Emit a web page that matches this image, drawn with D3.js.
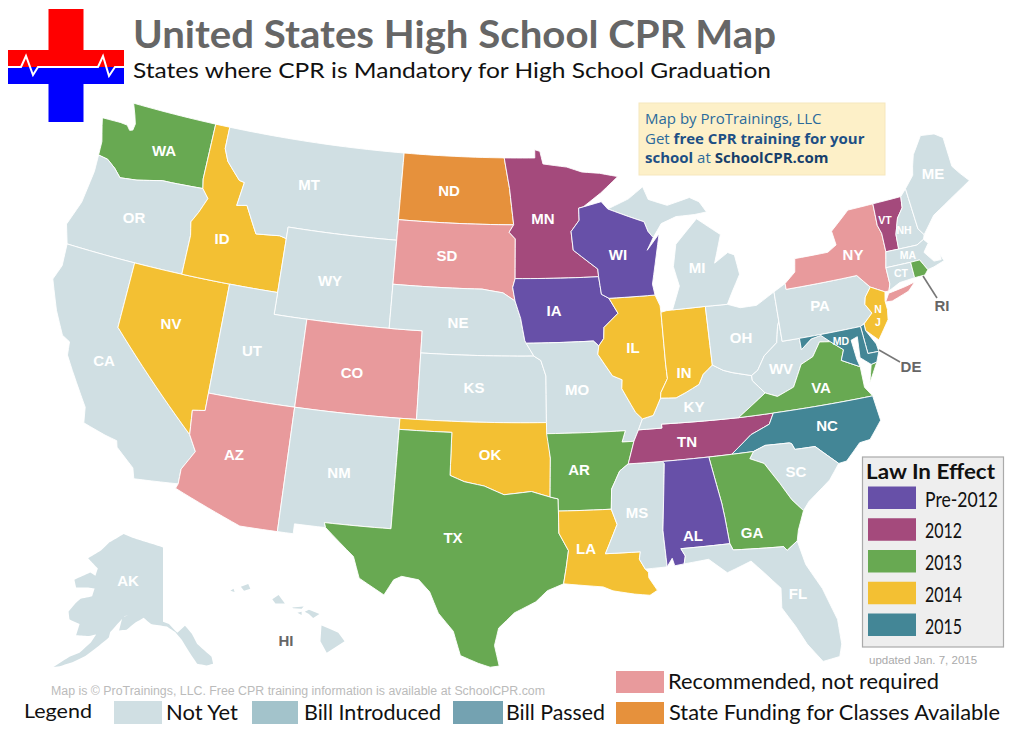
<!DOCTYPE html>
<html><head><meta charset="utf-8">
<style>html,body{margin:0;padding:0;background:#fff}svg{display:block}</style>
<script src="https://cdn.jsdelivr.net/npm/d3@7"></script></head><body>
<svg id="c" width="1024" height="731"></svg>
<script>
// ---- data: legend categories, colours and each state's status ----
const lawCategories = ["Pre-2012","2012","2013","2014","2015"];
const lawColors = ["#6750a8","#a44a7c","#68a952","#f3c033","#438696"];
const statusCategories = ["Not Yet","Bill Introduced","Bill Passed","Recommended, not required","State Funding for Classes Available"];
const statusColors = ["#d0dfe3","#a3c3cb","#74a2b1","#e89a9c","#e6913c"];
const statePre2012 = ["IA","WI","AL"];
const state2012 = ["MN","TN","VT"];
const state2013 = ["WA","TX","AR","GA","VA","RI"];
const state2014 = ["ID","NV","OK","LA","IL","IN","NJ"];
const state2015 = ["NC","MD","DE"];
const stateRecommended = ["AZ","CO","SD","NY"];
const stateFunding = ["ND"];
// ---- state outlines, longitude/latitude rings ----
const stateShapes = {
WA:[[[-124.7,48.38],[-124.55,47.95],[-123.3,47.98],[-122.8,47.95],[-122.55,47.75],[-122.35,47.8],[-122.3,48.1],[-122.5,48.5],[-122.8,49],[-117.03,49],[-117.04,46.42],[-116.92,45.995],[-119,45.93],[-119.6,45.92],[-121.2,45.65],[-122.3,45.55],[-122.8,45.9],[-123.4,46.2],[-124.05,46.27],[-124.1,46.9],[-124.4,47.6]]],
OR:[[[-124.05,46.27],[-123.4,46.2],[-122.8,45.9],[-122.3,45.55],[-121.2,45.65],[-119.6,45.92],[-119,45.93],[-116.92,45.995],[-116.46,45.6],[-116.85,44.9],[-117.2,44.4],[-117.03,43.8],[-117.03,42],[-124.3,42],[-124.7,42.85],[-124.2,44],[-124,45.5]]],
CA:[[[-124.3,42],[-120,42],[-120,39],[-114.63,35],[-114.14,34.3],[-114.72,33.4],[-114.72,32.72],[-117.12,32.53],[-117.3,33],[-118.4,33.75],[-118.5,34.03],[-119.2,34.15],[-120.5,34.45],[-120.65,35.15],[-121.9,36.6],[-122.4,37.2],[-122.5,37.8],[-123,38],[-123.75,39],[-124.5,40.3],[-124.2,41]]],
NV:[[[-120,42],[-114.04,42],[-114.04,36.2],[-114.75,36.1],[-114.63,35],[-120,39]]],
ID:[[[-117.03,49],[-116.05,49],[-116.05,48],[-115.7,47.45],[-114.7,46.7],[-114.35,46.65],[-114.55,45.56],[-113.9,45.65],[-113.45,45.05],[-113,44.45],[-111.5,44.55],[-111.05,44.47],[-111.05,42],[-117.03,42],[-117.03,43.8],[-117.2,44.4],[-116.85,44.9],[-116.46,45.6],[-116.92,45.995],[-117.04,46.42]]],
MT:[[[-116.05,49],[-104.05,49],[-104.05,45],[-111.05,45],[-111.05,44.47],[-111.5,44.55],[-113,44.45],[-113.45,45.05],[-113.9,45.65],[-114.55,45.56],[-114.35,46.65],[-114.7,46.7],[-115.7,47.45],[-116.05,48]]],
WY:[[[-111.05,45],[-104.05,45],[-104.05,41],[-111.05,41]]],
UT:[[[-114.04,42],[-111.05,42],[-111.05,41],[-109.05,41],[-109.05,37],[-114.04,37]]],
CO:[[[-109.05,41],[-102.05,41],[-102.05,37],[-109.05,37]]],
AZ:[[[-114.04,37],[-109.05,37],[-109.05,31.33],[-111.07,31.33],[-114.81,32.5],[-114.72,32.72],[-114.72,33.4],[-114.14,34.3],[-114.63,35],[-114.75,36.1],[-114.04,36.2]]],
NM:[[[-109.05,37],[-103,37],[-103.04,32],[-106.62,32],[-106.53,31.78],[-108.2,31.78],[-108.2,31.33],[-109.05,31.33]]],
ND:[[[-104.05,49],[-97.23,49],[-96.85,47.6],[-96.56,45.94],[-104.05,45.94]]],
SD:[[[-104.05,45.94],[-96.56,45.94],[-96.85,45.6],[-96.45,45.3],[-96.45,43.5],[-96.6,43.1],[-96.45,42.49],[-97.2,42.85],[-98.5,43],[-104.05,43]]],
NE:[[[-104.05,43],[-98.5,43],[-97.2,42.85],[-96.45,42.49],[-96.1,41.7],[-95.85,40.7],[-95.31,40],[-102.05,40],[-102.05,41],[-104.05,41]]],
KS:[[[-102.05,40],[-95.31,40],[-94.9,39.8],[-94.61,39.1],[-94.62,37],[-102.05,37]]],
OK:[[[-103,37],[-94.62,37],[-94.43,35.4],[-94.48,33.64],[-95.5,33.9],[-97,33.75],[-98.1,34.13],[-99.2,34.3],[-100,34.56],[-100,36.5],[-103,36.5]]],
TX:[[[-106.62,32],[-103.04,32],[-103,36.5],[-100,36.5],[-100,34.56],[-99.2,34.3],[-98.1,34.13],[-97,33.75],[-95.5,33.9],[-94.48,33.64],[-94.04,33.55],[-94.04,33],[-94.04,32],[-93.55,31.2],[-93.7,30.4],[-93.85,29.7],[-94.7,29.4],[-95.3,28.9],[-96.4,28.4],[-97.2,27.7],[-97.4,26.9],[-97.15,25.96],[-97.6,25.9],[-98.2,26.07],[-99.1,26.4],[-99.5,27.5],[-100.3,28.3],[-100.8,29.25],[-101.4,29.77],[-102.3,29.88],[-102.7,29.7],[-103.15,28.98],[-104.5,29.65],[-104.9,30.6],[-106.53,31.78]]],
MN:[[[-97.23,49],[-95.15,49],[-95.15,49.38],[-94.8,49.3],[-94.6,48.72],[-93,48.55],[-92,48.3],[-90.8,48.2],[-89.6,48],[-90.8,47.3],[-92,46.7],[-92.3,46.65],[-92.3,46.1],[-92.85,45.6],[-92.75,44.75],[-91.25,43.85],[-91.22,43.5],[-96.45,43.5],[-96.45,45.3],[-96.85,45.6],[-96.56,45.94],[-96.85,47.6]]],
IA:[[[-96.45,43.5],[-91.22,43.5],[-91.1,42.7],[-90.65,42.5],[-90.15,41.8],[-91.05,41.2],[-91.1,40.7],[-91.42,40.38],[-91.73,40.61],[-95.77,40.58],[-95.85,40.7],[-96.1,41.7],[-96.45,42.49],[-96.6,43.1]]],
MO:[[[-95.77,40.58],[-91.73,40.61],[-91.42,40.38],[-91.5,40],[-90.7,39],[-90.15,38.8],[-90.2,38.4],[-89.5,37.3],[-89.13,36.98],[-89.4,36.5],[-89.7,36],[-90.37,36],[-90.15,36.5],[-94.62,36.5],[-94.62,37],[-94.61,39.1],[-94.9,39.8],[-95.31,40]]],
AR:[[[-94.62,36.5],[-90.15,36.5],[-90.37,36],[-89.7,36],[-90.1,35],[-90.6,34.7],[-91.1,33.9],[-91.17,33],[-94.04,33],[-94.04,33.55],[-94.48,33.64],[-94.43,35.4]]],
LA:[[[-94.04,33],[-91.17,33],[-90.9,32.3],[-91.6,31],[-89.75,31],[-89.83,30.67],[-89.55,30.2],[-89.4,30.05],[-89.4,29.8],[-89,29.2],[-89.4,29],[-90.2,29.1],[-91.3,29.3],[-91.8,29.5],[-92.3,29.55],[-93.85,29.7],[-93.7,30.4],[-93.55,31.2],[-94.04,32]]],
MS:[[[-90.1,35],[-88.2,35],[-88.1,34.9],[-88.47,31.9],[-88.4,30.23],[-89.55,30.2],[-89.83,30.67],[-89.75,31],[-91.6,31],[-90.9,32.3],[-91.17,33],[-91.1,33.9],[-90.6,34.7]]],
TN:[[[-90.1,35],[-89.7,36],[-89.4,36.5],[-88.07,36.5],[-88.07,36.68],[-83.68,36.6],[-81.68,36.59],[-82,36.12],[-83.1,35.77],[-84.32,35],[-85.6,35],[-88.2,35]]],
KY:[[[-89.4,36.5],[-89.13,36.98],[-88.5,37.1],[-88,37.85],[-87.1,37.8],[-86.5,38],[-85.7,38.3],[-85.4,38.73],[-84.8,39.1],[-84.2,38.8],[-83.7,38.65],[-82.6,38.4],[-82.6,38.17],[-81.97,37.54],[-83.68,36.6],[-88.07,36.68],[-88.07,36.5]]],
IL:[[[-90.65,42.5],[-87.8,42.5],[-87.55,42],[-87.53,41.7],[-87.53,39.35],[-87.5,38.7],[-87.95,38.1],[-88,37.85],[-88.5,37.1],[-89.13,36.98],[-89.5,37.3],[-90.2,38.4],[-90.15,38.8],[-90.7,39],[-91.5,40],[-91.42,40.38],[-91.1,40.7],[-91.05,41.2],[-90.15,41.8]]],
IN:[[[-87.53,41.7],[-87.2,41.75],[-86.82,41.76],[-84.8,41.76],[-84.8,39.1],[-85.4,38.73],[-85.7,38.3],[-86.5,38],[-87.1,37.8],[-88,37.85],[-87.95,38.1],[-87.5,38.7],[-87.53,39.35]]],
OH:[[[-84.8,41.76],[-83.45,41.73],[-82.7,41.5],[-81.7,41.5],[-80.52,41.98],[-80.52,40.64],[-80.65,40.4],[-80.85,39.7],[-81.7,39.2],[-82.2,38.6],[-82.6,38.4],[-83.7,38.65],[-84.2,38.8],[-84.8,39.1]]],
WV:[[[-82.6,38.4],[-82.2,38.6],[-81.7,39.2],[-80.85,39.7],[-80.65,40.4],[-80.52,40.64],[-80.52,39.72],[-79.48,39.72],[-79.48,39.2],[-78.8,39.6],[-78.2,39.68],[-77.72,39.32],[-78.35,39.4],[-78.9,38.8],[-79.65,38.55],[-80.3,37.6],[-81.3,37.3],[-81.97,37.54],[-82.6,38.17]]],
VA:[[[-83.68,36.6],[-81.97,37.54],[-81.3,37.3],[-80.3,37.6],[-79.65,38.55],[-78.9,38.8],[-78.35,39.4],[-77.72,39.32],[-77.05,38.85],[-77.3,38.4],[-76.3,37.95],[-76.3,37],[-75.95,36.55],[-81.68,36.59]],[[-75.95,37.15],[-75.3,38],[-75.65,37.95]]],
NC:[[[-84.32,35],[-83.1,35.77],[-82,36.12],[-81.68,36.59],[-75.95,36.55],[-75.8,35.4],[-76.6,34.65],[-77.2,34.6],[-78.1,33.9],[-78.55,33.86],[-79.67,34.8],[-80.8,34.82],[-80.93,35.1],[-81.05,35.15],[-82.4,35.2],[-83.1,35]]],
SC:[[[-83.1,35],[-82.4,35.2],[-81.05,35.15],[-80.93,35.1],[-80.8,34.82],[-79.67,34.8],[-78.55,33.86],[-79.2,33.2],[-80.5,32.4],[-80.87,32.03],[-81.4,32.6],[-81.9,33.4],[-82.6,34.4],[-83.35,34.7]]],
GA:[[[-85.6,35],[-84.32,35],[-83.1,35],[-83.35,34.7],[-82.6,34.4],[-81.9,33.4],[-81.4,32.6],[-80.87,32.03],[-81.3,31.2],[-81.45,30.72],[-82.05,30.36],[-82.2,30.55],[-84.86,30.7],[-85,31],[-85.1,32.2],[-85.18,32.87]]],
AL:[[[-88.2,35],[-85.6,35],[-85.18,32.87],[-85.1,32.2],[-85,31],[-87.6,31],[-87.4,30.65],[-87.5,30.3],[-88,30.25],[-88.1,30.6],[-88.4,30.23],[-88.47,31.9],[-88.1,34.9]]],
FL:[[[-87.6,31],[-85,31],[-84.86,30.7],[-82.2,30.55],[-82.05,30.36],[-81.45,30.72],[-81.2,29.6],[-80.55,28.4],[-80.05,26.9],[-80.05,25.75],[-80.25,25.2],[-81.1,25.1],[-81.75,26],[-82.2,26.9],[-82.75,27.8],[-82.65,28.7],[-83.4,29.5],[-84,30.1],[-85.3,29.7],[-86.2,30.4],[-87.5,30.3],[-87.4,30.65]]],
MI:[[[-86.82,41.76],[-84.8,41.76],[-83.45,41.73],[-83.1,42.2],[-82.45,43],[-82.6,43.9],[-83,44.05],[-83.9,43.65],[-83.3,44.9],[-84.7,45.75],[-85.5,45.2],[-86.2,44.7],[-86.5,43.7],[-86.25,42.8]],[[-90.4,46.55],[-89,46.95],[-88,47.45],[-87.7,46.85],[-86.5,46.5],[-85,46.75],[-84.4,46.5],[-84,46],[-84.8,45.95],[-86,45.95],[-87,45.7],[-87.6,45.1],[-87.9,45.4],[-88.1,45.85],[-89.1,46.15]]],
WI:[[[-92.3,46.65],[-92,46.7],[-90.8,46.9],[-90.4,46.55],[-89.1,46.15],[-88.1,45.85],[-87.9,45.4],[-87.6,45.1],[-88.05,44.55],[-87.2,45.25],[-87.5,44.3],[-87.9,43],[-87.8,42.5],[-90.65,42.5],[-91.1,42.7],[-91.22,43.5],[-91.25,43.85],[-92.75,44.75],[-92.85,45.6],[-92.3,46.1]]],
PA:[[[-80.52,41.98],[-79.76,42.27],[-79.76,42],[-75.35,42],[-74.7,41.36],[-75.13,40.97],[-75.25,40.65],[-74.95,40.2],[-75.55,39.8],[-75.79,39.72],[-80.52,39.72]]],
NY:[[[-79.76,42.27],[-79.05,42.7],[-78.9,43.3],[-76.8,43.3],[-76.2,43.55],[-76.3,44.2],[-75,44.98],[-73.35,45],[-73.4,44],[-73.25,43.6],[-73.27,42.75],[-73.5,42.05],[-73.5,41.3],[-73.65,41],[-73.9,41],[-74.7,41.36],[-75.35,42],[-79.76,42]],[[-74,40.55],[-73.7,40.9],[-72.6,41.02],[-72,41.12],[-72.5,40.78],[-73.6,40.52]]],
VT:[[[-73.35,45],[-71.5,45.01],[-71.6,44.5],[-72.05,44.1],[-72.4,43.4],[-72.46,42.73],[-73.27,42.75],[-73.25,43.6],[-73.4,44]]],
NH:[[[-71.5,45.01],[-71.08,45.3],[-70.98,43.4],[-70.7,43.07],[-70.82,42.87],[-71.3,42.7],[-72.46,42.73],[-72.4,43.4],[-72.05,44.1],[-71.6,44.5]]],
ME:[[[-71.08,45.3],[-70.4,45.8],[-70.25,46.2],[-70,46.7],[-69.2,47.45],[-68.3,47.35],[-67.8,47.07],[-67.8,45.7],[-67.45,45.3],[-67,44.85],[-68.5,44.3],[-69.8,43.8],[-70.7,43.07],[-70.98,43.4]]],
MA:[[[-73.5,42.05],[-73.27,42.75],[-72.46,42.73],[-71.3,42.7],[-70.82,42.87],[-70.6,42.65],[-71,42.3],[-70.55,41.8],[-70.1,41.78],[-70.1,42.05],[-69.95,41.7],[-70.65,41.55],[-71.05,41.5],[-71.38,42.02],[-71.95,42.02]]],
CT:[[[-73.5,42.05],[-71.95,42.02],[-71.95,41.3],[-72.9,41.25],[-73.65,41],[-73.5,41.3]]],
RI:[[[-71.95,42.02],[-71.38,42.02],[-71.05,41.5],[-71.3,41.3],[-71.95,41.3]]],
NJ:[[[-74.7,41.36],[-73.9,41],[-74.02,40.6],[-74,40.2],[-74.1,39.75],[-74.9,38.95],[-75.55,39.5],[-75.55,39.8],[-74.95,40.2],[-75.25,40.65],[-75.13,40.97]]],
DE:[[[-75.79,39.72],[-75.55,39.8],[-75.55,39.5],[-75.1,38.8],[-75.05,38.45],[-75.7,38.46]]],
MD:[[[-79.48,39.72],[-75.79,39.72],[-75.7,38.46],[-75.05,38.45],[-75.3,38],[-75.65,37.95],[-76.2,38.35],[-76.1,39.3],[-76.5,39.2],[-76.4,38.3],[-76.3,37.95],[-77.3,38.4],[-77.05,38.85],[-77.72,39.32],[-78.2,39.68],[-78.8,39.6],[-79.48,39.2]]]
};
const alaskaShape = [[[-141,69.65],[-141,60.3],[-139.5,60],[-137.5,58.9],[-135.5,59.8],[-134,58.8],[-133,57.5],[-130.1,55.9],[-130,55],[-131.5,54.8],[-133.5,55],[-135,56.5],[-136.5,58],[-138,59],[-140,59.7],[-144,60],[-146,60.8],[-148,60.2],[-150,59.3],[-151.8,59.2],[-151.5,60.8],[-150,61.2],[-151,61],[-152.5,60],[-153.9,59],[-154,58.3],[-156.5,57],[-158.5,56],[-161,55.2],[-163.5,54.7],[-164.8,54.6],[-162,55.9],[-160,56.4],[-158,57.7],[-157.2,58.7],[-158.9,58.5],[-162,58.6],[-162,60],[-165,60.6],[-166,61.6],[-165,62.6],[-164,63.2],[-161,63.5],[-161,64.5],[-163,64.6],[-166.5,64.6],[-168,65.6],[-164,66.5],[-162,66.1],[-162,67],[-164,67.6],[-166.5,68.3],[-163,69.3],[-161,70.3],[-156.5,71.35],[-152,70.8],[-148,70.4],[-144,70]]];
const hawaiiShape = [
[[-160.25,21.9],[-160.1,22],[-160.05,21.85]],
[[-159.75,22.1],[-159.4,22.23],[-159.3,22],[-159.6,21.9]],
[[-158.25,21.5],[-157.95,21.7],[-157.65,21.3],[-158.1,21.3]],
[[-157.3,21.1],[-156.75,21.15],[-156.85,21.05],[-157.25,21.07]],
[[-157.05,20.85],[-156.85,20.9],[-156.85,20.75]],
[[-156.7,20.9],[-156.5,21],[-156,20.8],[-156.3,20.6],[-156.5,20.8]],
[[-155.9,20.25],[-155.1,19.9],[-154.8,19.5],[-155.65,18.95],[-155.95,19.5]]
];
// ---- layout ----
const labels = [["WA",164,150],["OR",134,217],["CA",104,360],["NV",171,323],["ID",222,238],["MT",309,184],["WY",330,280],["UT",252,350],["AZ",234,454],["CO",352,372],["NM",339,472],["ND",449,190],["SD",447,255],["NE",458,322],["KS",474,387],["OK",490,454],["TX",453,537],["MN",543,218],["IA",554,310],["MO",577,389],["AR",579,469],["LA",586,548],["WI",618,254],["IL",633,347],["MI",697,267],["IN",684,372],["OH",741,337],["KY",694,406],["TN",687,441],["MS",637,512],["AL",693,535],["GA",752,532],["FL",798,593],["SC",796,471],["NC",827,425],["VA",821,387],["WV",781,368],["PA",820,305],["NY",853,254],["ME",933,173],["AK",128,580]];
const smallLabels = [["VT",885,220],["NH",904,230],["MA",908,255],["CT",901,273],["MD",841,341],["N",878,309],["J",878,322]];
const darkLabels = [["HI",286,640],["RI",942,305],["DE",911,366]];

const statusOf = {};
[statePre2012,state2012,state2013,state2014,state2015].forEach((l,i)=>l.forEach(s=>statusOf[s]=lawColors[i]));
stateRecommended.forEach(s=>statusOf[s]=statusColors[3]);
stateFunding.forEach(s=>statusOf[s]=statusColors[4]);
const svg = d3.select("#c");

// geometry helper: follow parallels by stepping along long edges in lon/lat
function dense(ring){const out=[];ring.forEach((p,i)=>{const q=ring[(i+1)%ring.length];const n=Math.ceil(Math.max(Math.abs(q[0]-p[0]),Math.abs(q[1]-p[1]))/0.5);for(let k=0;k<n;k++)out.push([p[0]+(q[0]-p[0])*k/n,p[1]+(q[1]-p[1])*k/n]);});out.push(out[0]);return out;}
const asFeature=(rings,id)=>({type:"Feature",id,geometry:{type:"MultiPolygon",coordinates:rings.map(r=>[dense(r)])}});
const planar=proj=>d3.geoPath(d3.geoTransform({point(x,y){const p=proj([x,y]);this.stream.point(p[0],p[1]);}}));

const kx=1.006;
const albers=d3.geoAlbers().rotate([96,0]).center([0,38.7]).parallels([29.5,45.5]).scale(1260).translate([0,385]);
const main=p=>{const a=albers(p);return [522.3+a[0]*kx,a[1]];};
const features=Object.keys(stateShapes).map(k=>asFeature(stateShapes[k],k));

const mapG=svg.append("g");
mapG.selectAll("path.st").data(features).join("path").attr("class","st")
  .attr("d",planar(main)).attr("fill",d=>statusOf[d.id]||statusColors[0])
  .attr("stroke","#fff").attr("stroke-width",0.9).attr("stroke-linejoin","round");

// Alaska (sinusoidal about its eastern border, which the map keeps vertical) & Hawaii
const akFeature=asFeature(alaskaShape,"AK");
const akProj=d3.geoProjection((l,p)=>[l*Math.cos(p),p]).rotate([141,0]).scale(1).translate([0,0]);
(function fit(){const pts=dense(alaskaShape[0]).map(akProj);const ey=d3.extent(pts,p=>p[1]);const k=(667-534)/(ey[1]-ey[0]);akProj.scale(k).translate([163,534-ey[0]*k]);})();
mapG.append("path").datum(akFeature).attr("d",planar(akProj)).attr("fill",statusColors[0]);
const hiFeature=asFeature(hawaiiShape,"HI");
const hiProj=d3.geoEquirectangular().scale(1200).rotate([157.5,0]).center([0,20.7]).translate([288,616]);
mapG.append("path").datum(hiFeature).attr("d",planar(hiProj)).attr("fill",statusColors[0]);

// leader lines
const leaders=[[[923,276],[937,298]],[[879,350],[900,362]]];
svg.selectAll("line.lead").data(leaders).join("line").attr("class","lead")
  .attr("x1",d=>d[0][0]).attr("y1",d=>d[0][1]).attr("x2",d=>d[1][0]).attr("y2",d=>d[1][1])
  .attr("stroke","#777").attr("stroke-width",1.6);

// state labels
const labelFont="'Liberation Sans',Arial,sans-serif";
function drawLabels(list,size,fill){svg.append("g").selectAll("text").data(list).join("text")
  .attr("x",d=>d[1]).attr("y",d=>d[2]).attr("text-anchor","middle").attr("dominant-baseline","central")
  .attr("font-family",labelFont).attr("font-weight","bold").attr("font-size",size).attr("fill",fill).text(d=>d[0]);}
drawLabels(labels,15,"#fff");drawLabels(smallLabels,10.5,"#fff");drawLabels(darkLabels,15,"#666");

// logo
const logo=svg.append("g");
const red="#ff0000",blue="#0000ff";
logo.append("rect").attr("x",48.5).attr("y",9).attr("width",35).attr("height",60).attr("fill",red);
logo.append("rect").attr("x",8).attr("y",50).attr("width",116).attr("height",17).attr("fill",red);
logo.append("rect").attr("x",48.5).attr("y",66).attr("width",35).attr("height",56).attr("fill",blue);
logo.append("rect").attr("x",8).attr("y",67).attr("width",116).attr("height",17).attr("fill",blue);
const ecg=d3.line()([[8,67],[21,67],[26,56],[33,75],[38,67],[98,67],[103,56],[109,76],[115,67],[124,67]]);
logo.append("path").attr("d",ecg).attr("fill","none").attr("stroke","#fff").attr("stroke-width",2);

// title
const uiFont="Lato,'Open Sans',sans-serif";
const noteFont="'Open Sans','Noto Sans',sans-serif";
svg.append("text").attr("x",133).attr("y",48).attr("font-family",uiFont).attr("font-weight",700).attr("font-size",38).attr("fill","#666")
  .attr("textLength",643).attr("lengthAdjust","spacingAndGlyphs").text("United States High School CPR Map");
svg.append("text").attr("x",133).attr("y",77.5).attr("font-family",uiFont).attr("font-size",21).attr("fill","#111")
  .attr("textLength",638).attr("lengthAdjust","spacingAndGlyphs").text("States where CPR is Mandatory for High School Graduation");

// note box
svg.append("rect").attr("x",639).attr("y",103).attr("width",246).attr("height",72).attr("fill","#fdf0c8").attr("stroke","#f6e7bd");
const note=[[124,[["Map by ProTrainings, LLC",400,"#2b6a9b"]]],[144,[["Get ",400,"#2b6a9b"],["free CPR training for your",700,"#1d4f85"]]],[163,[["school",700,"#1d4f85"],[" at ",400,"#2b6a9b"],["SchoolCPR.com",700,"#163e6b"]]]];
note.forEach(([y,parts])=>{const t=svg.append("text").attr("x",645).attr("y",y).attr("font-family",noteFont).attr("font-size",15).attr("xml:space","preserve");
  parts.forEach(p=>t.append("tspan").attr("font-weight",p[1]).attr("fill",p[2]).text(p[0]));});

// law legend
svg.append("rect").attr("x",862.5).attr("y",457).attr("width",141).attr("height",190).attr("fill","#eee").attr("stroke","#aaa").attr("stroke-width",1.2);
svg.append("text").attr("x",866).attr("y",479).attr("font-family",uiFont).attr("font-weight",700).attr("font-size",20).attr("fill","#111")
  .attr("textLength",129).attr("lengthAdjust","spacingAndGlyphs").text("Law In Effect");
const lawY=d3.scalePoint().domain(lawCategories).range([486.5,613.5]);
const lawG=svg.append("g").selectAll("g").data(lawCategories).join("g");
lawG.append("rect").attr("x",868).attr("y",d=>lawY(d)).attr("width",48).attr("height",22.5).attr("fill",(d,i)=>lawColors[i]);
lawG.append("text").attr("x",925).attr("y",d=>lawY(d)+20).attr("font-family",uiFont).attr("font-size",21.5).attr("fill","#111")
  .attr("textLength",d=>d.length>4?73:37).attr("lengthAdjust","spacingAndGlyphs").text(d=>d);
svg.append("text").attr("x",869).attr("y",664).attr("font-family",labelFont).attr("font-size",11.5).attr("fill","#aaa").text("updated Jan. 7, 2015");

// bottom legend
svg.append("text").attr("x",51).attr("y",695).attr("font-family",labelFont).attr("font-size",12).attr("fill","#bbb")
  .attr("textLength",494).attr("lengthAdjust","spacingAndGlyphs").text("Map is © ProTrainings, LLC. Free CPR training information is available at SchoolCPR.com");
svg.append("text").attr("x",24).attr("y",718).attr("font-family",uiFont).attr("font-size",20).attr("fill","#111")
  .attr("textLength",68).attr("lengthAdjust","spacingAndGlyphs").text("Legend");
const bottomLayout=[[114,701,48,23,166,720,72],[252,701,46,23,304,720,137],[453,701,50,23,506,720,99],[616,671,48,22,668,689,271],[616,702,48,22,669,720,331]];
const bot=svg.append("g").selectAll("g").data(statusCategories).join("g");
bot.append("rect").attr("x",(d,i)=>bottomLayout[i][0]).attr("y",(d,i)=>bottomLayout[i][1]).attr("width",(d,i)=>bottomLayout[i][2]).attr("height",(d,i)=>bottomLayout[i][3]).attr("fill",(d,i)=>statusColors[i]);
bot.append("text").attr("x",(d,i)=>bottomLayout[i][4]).attr("y",(d,i)=>bottomLayout[i][5]).attr("textLength",(d,i)=>bottomLayout[i][6]).attr("lengthAdjust","spacingAndGlyphs")
  .attr("font-family",uiFont).attr("font-size",20.5).attr("fill","#111").text(d=>d);
</script></body></html>
